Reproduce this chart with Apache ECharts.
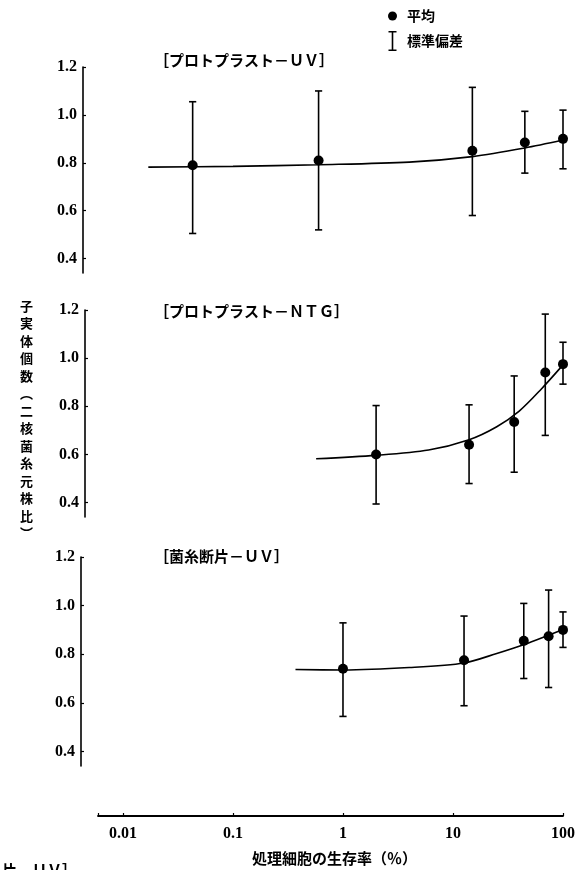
<!DOCTYPE html>
<html>
<head>
<meta charset="utf-8">
<script src="https://cdn.jsdelivr.net/npm/echarts@6/dist/echarts.min.js"></script>
<style>
html,body{margin:0;padding:0;background:#fff;}
#chart{width:585px;height:870px;}
</style>
</head>
<body>
<div id="chart"></div>
<script>
// ---- tick labels ----
const xTickValues = [0.01, 0.1, 1, 10, 100];
const xTickLabels = ['0.01', '0.1', '1', '10', '100'];
const yTickValues = [0.4, 0.6, 0.8, 1.0, 1.2];
const yTickLabels = ['0.4', '0.6', '0.8', '1.0', '1.2'];

// ---- panel titles ----
const panelTitles = ['［プロトプラスト－ＵＶ］', '［プロトプラスト－ＮＴＧ］', '［菌糸断片－ＵＶ］'];

// ---- Panel 1: protoplast - UV ----
const survUV = [0.043, 0.6, 15, 45, 100];
const meanUV = [0.79, 0.81, 0.85, 0.885, 0.90];
const sdHiUV = [1.055, 1.10, 1.115, 1.015, 1.02];
const sdLoUV = [0.505, 0.52, 0.58, 0.757, 0.775];
const curveXUV = [0.017, 0.1, 0.6, 4, 15, 45, 100];
const curveYUV = [0.782, 0.785, 0.792, 0.803, 0.826, 0.862, 0.895];

// ---- Panel 2: protoplast - NTG ----
const survNTG = [2.0, 14, 36, 69, 100];
const meanNTG = [0.60, 0.64, 0.735, 0.94, 0.975];
const sdHiNTG = [0.803, 0.806, 0.926, 1.183, 1.066];
const sdLoNTG = [0.394, 0.479, 0.526, 0.679, 0.892];
const curveXNTG = [0.57, 2, 6, 14, 25, 40, 63, 100];
const curveYNTG = [0.582, 0.596, 0.618, 0.661, 0.715, 0.78, 0.87, 0.972];

// ---- Panel 3: mycelial fragment - UV ----
const survMF = [1.0, 12.6, 44, 74, 100];
const meanMF = [0.74, 0.775, 0.855, 0.874, 0.90];
const sdHiMF = [0.929, 0.957, 1.009, 1.064, 0.974];
const sdLoMF = [0.544, 0.588, 0.700, 0.663, 0.828];
const curveXMF = [0.37, 1, 4, 12.6, 25, 45, 100];
const curveYMF = [0.737, 0.735, 0.745, 0.764, 0.803, 0.841, 0.902];

const INK = '#000';
const SERIF = "'Liberation Serif','DejaVu Serif',serif";
const JP = "'Noto Sans CJK JP','Noto Sans CJK SC',sans-serif";

const X_MIN = 0.00593, X_MAX = 100;
const Y_MIN = 0.34, Y_MAX = 1.2;

const panels = [
  {surv: survUV, mean: meanUV, hi: sdHiUV, lo: sdLoUV, cx: curveXUV, cy: curveYUV, top: 67, height: 206, offset: 15},
  {surv: survNTG, mean: meanNTG, hi: sdHiNTG, lo: sdLoNTG, cx: curveXNTG, cy: curveYNTG, top: 310, height: 207, offset: 13},
  {surv: survMF, mean: meanMF, hi: sdHiMF, lo: sdLoMF, cx: curveXMF, cy: curveYMF, top: 557, height: 209, offset: 17}
];

const grids = [], xAxes = [], yAxes = [], series = [];

function yLabelFmt(v) {
  for (let i = 0; i < yTickValues.length; i++) {
    if (Math.abs(v - yTickValues[i]) < 1e-6) return yTickLabels[i];
  }
  return '';
}
function xLabelFmt(v) {
  const l = Math.log10(v);
  for (let i = 0; i < xTickValues.length; i++) {
    if (Math.abs(l - Math.log10(xTickValues[i])) < 1e-6) return xTickLabels[i];
  }
  return '';
}

function errRender(params, api) {
  const x = api.value(0), lo = api.value(1), hi = api.value(2);
  const pHi = api.coord([x, hi]);
  const pLo = api.coord([x, lo]);
  const w = 3.6;
  const st = {stroke: INK, lineWidth: 1.6};
  return {
    type: 'group',
    children: [
      {type: 'line', shape: {x1: pHi[0], y1: pHi[1], x2: pLo[0], y2: pLo[1]}, style: st},
      {type: 'line', shape: {x1: pHi[0] - w, y1: pHi[1], x2: pHi[0] + w, y2: pHi[1]}, style: st},
      {type: 'line', shape: {x1: pLo[0] - w, y1: pLo[1], x2: pLo[0] + w, y2: pLo[1]}, style: st}
    ]
  };
}

panels.forEach((p, i) => {
  grids.push({left: 98, right: 22, top: p.top, height: p.height, containLabel: false});
  xAxes.push({
    type: 'log', gridIndex: i, min: X_MIN, max: X_MAX,
    axisLine: {show: false}, axisTick: {show: false}, axisLabel: {show: false}, splitLine: {show: false}
  });
  yAxes.push({
    type: 'value', gridIndex: i, min: Y_MIN, max: Y_MAX, offset: p.offset,
    axisLine: {show: true, lineStyle: {color: INK, width: 1.6}},
    axisTick: {show: true, inside: true, length: 3, lineStyle: {color: INK, width: 1.2}, customValues: yTickValues},
    axisLabel: {
      show: true, margin: 6, color: INK, fontFamily: SERIF, fontSize: 16, fontWeight: 'bold',
      customValues: yTickValues, formatter: yLabelFmt
    },
    splitLine: {show: false}
  });
  series.push({
    type: 'line', name: 'curve' + i, xAxisIndex: i, yAxisIndex: i,
    data: p.cx.map((x, k) => [x, p.cy[k]]),
    smooth: 0.3, showSymbol: false, symbol: 'none',
    lineStyle: {color: INK, width: 1.6}, z: 2, silent: true
  });
  series.push({
    type: 'custom', name: '標準偏差', xAxisIndex: i, yAxisIndex: i,
    data: p.surv.map((s, k) => [s, p.lo[k], p.hi[k]]),
    encode: {x: 0, y: [1, 2]},
    renderItem: errRender, itemStyle: {color: INK}, z: 3, silent: true
  });
  series.push({
    type: 'scatter', name: '平均', xAxisIndex: i, yAxisIndex: i,
    data: p.surv.map((s, k) => [s, p.mean[k]]),
    symbol: 'circle', symbolSize: 10, itemStyle: {color: INK, opacity: 1}, z: 4, silent: true
  });
});

// bottom shared x axis (survival %)
grids.push({left: 98, right: 22, top: 770, height: 46});
xAxes.push({
  type: 'log', gridIndex: 3, min: X_MIN, max: X_MAX, position: 'bottom',
  axisLine: {show: true, lineStyle: {color: INK, width: 1.8}},
  axisTick: {show: true, inside: true, length: 3, lineStyle: {color: INK, width: 1.2}},
  axisLabel: {show: true, margin: 10, color: INK, fontFamily: SERIF, fontSize: 16, fontWeight: 'bold', formatter: xLabelFmt},
  splitLine: {show: false}
});
yAxes.push({type: 'value', gridIndex: 3, min: 0, max: 1, show: false});

const yTitleChars = ['子', '実', '体', '個', '数', '︵', '二', '核', '菌', '糸', '元', '株', '比', '︶'];

const option = {
  backgroundColor: '#fff',
  animation: false,
  grid: grids,
  xAxis: xAxes,
  yAxis: yAxes,
  series: series,
  legend: {
    orient: 'vertical', left: 383, top: 4, itemGap: 8, itemWidth: 9, itemHeight: 20,
    selectedMode: false,
    textStyle: {color: INK, fontFamily: JP, fontSize: 14, fontWeight: 'bold', padding: [0, 0, 0, 5]},
    data: [
      {name: '平均', icon: 'circle', itemStyle: {color: INK, opacity: 1}},
      {name: '標準偏差', icon: 'path://M0,0h8v1.6h-8z M3.2,0h1.6v20h-1.6z M0,18.4h8v1.6h-8z', itemStyle: {color: INK, opacity: 1}}
    ]
  },
  graphic: [
    {type: 'text', left: 154, top: 53, style: {text: panelTitles[0], fill: INK, font: 'bold 15px ' + JP}},
    {type: 'text', left: 154, top: 304, style: {text: panelTitles[1], fill: INK, font: 'bold 15px ' + JP}},
    {type: 'text', left: 154, top: 549, style: {text: panelTitles[2], fill: INK, font: 'bold 15px ' + JP}},
    {type: 'text', left: 20, top: 297, style: {text: yTitleChars.join('\n'), fill: INK, font: 'bold 13px ' + JP, lineHeight: 17.5, align: 'center'}},
    {type: 'text', left: 252, top: 851, style: {text: '処理細胞の生存率（％）', fill: INK, font: 'bold 15px ' + JP}},
    {type: 'text', left: 2, top: 863, style: {text: '片－ＵＶ］', fill: INK, font: 'bold 15px ' + JP}}
  ]
};

const chart = echarts.init(document.getElementById('chart'), null, {renderer: 'canvas'});
chart.setOption(option);
</script>
</body>
</html>
